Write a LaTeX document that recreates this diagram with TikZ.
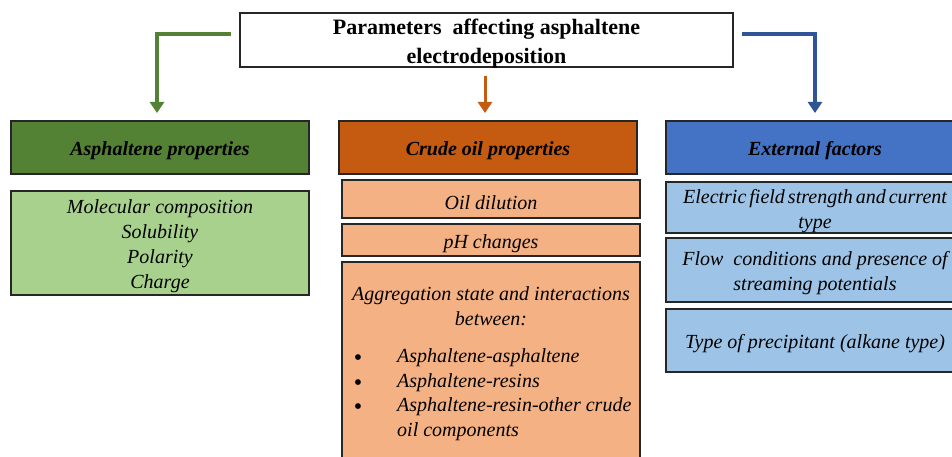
\documentclass[tikz,border=0pt]{standalone}
\usepackage{fontspec}
\setmainfont{Liberation Serif}
\usetikzlibrary{arrows.meta}
\definecolor{gdark}{HTML}{548235}
\definecolor{glight}{HTML}{A9D18E}
\definecolor{odark}{HTML}{C55A11}
\definecolor{olight}{HTML}{F4B183}
\definecolor{bdark}{HTML}{4472C4}
\definecolor{blight}{HTML}{9DC3E6}
\definecolor{barrow}{HTML}{2F5597}
\definecolor{edge}{HTML}{262626}
\newcommand\tightsp{\spaceskip=3pt plus 1pt\relax}
\tikzset{
  box/.style={draw=edge, line width=1.3pt, minimum width=298pt, inner sep=0pt, outer sep=0pt},
  head/.style={box, minimum height=53pt},
  lbl/.style={inner sep=0pt, align=center, yshift=-3.5pt, font=\fontsize{20}{25}\selectfont\itshape},
  hlbl/.style={lbl, font=\fontsize{20}{25}\selectfont\bfseries\itshape},
  conn/.style={line width=3.5pt, -{Triangle[width=14pt,length=11pt]}},
  txt/.style={anchor=base, inner sep=0pt, font=\fontsize{20}{25}\selectfont\itshape},
  bul/.style={anchor=base, inner sep=0pt, font=\fontsize{24}{24}\selectfont\upshape},
}
\begin{document}
\begin{tikzpicture}[x=1pt,y=-1pt]
\useasboundingbox (0,0) rectangle (952,457);
\clip (0,0) rectangle (952,457);
\fill[white] (0,0) rectangle (952,457);

% title
\node[draw=edge, line width=1.3pt, minimum width=493pt, minimum height=54pt, inner sep=0pt] (title) at (486.5,40) {};
\node[lbl, yshift=-0.5pt, font=\fontsize{22}{29}\selectfont\bfseries] (titletext) at (title.center)
  {Parameters\ \ affecting asphaltene\\electrodeposition};

% headers
\node[head, fill=gdark] (ahead) at (160,147.5) {};
\node[hlbl] (aheadt) at (ahead.center) {Asphaltene properties};
\node[head, fill=odark] (chead) at (488,147.5) {};
\node[hlbl] (cheadt) at (chead.center) {Crude oil properties};
\node[head, fill=bdark] (ehead) at (815,147.5) {};
\node[hlbl] (eheadt) at (ehead.center) {External factors};

% asphaltene list
\node[box, fill=glight, minimum height=104pt] (alist) at (160,243) {};
\node[lbl] (alistt) at (alist.center) {Molecular composition\\Solubility\\Polarity\\Charge};

% crude oil boxes
\node[box, fill=olight, minimum height=38pt] (oil) at (491,199) {};
\node[lbl] (oilt) at (oil.center) {Oil dilution};
\node[box, fill=olight, minimum height=32pt] (ph) at (491,240) {};
\node[lbl] (pht) at (ph.center) {pH changes};
\node[box, fill=olight, minimum height=238pt] (agg) at (491,381) {};
\node[txt] (agg1) at (491,300) {Aggregation state and interactions};
\node[txt] (agg2) at (491,325) {between:};
\node[bul] (b1) at (358,365.5) {\textbullet};
\node[bul] (b2) at (358,390.5) {\textbullet};
\node[bul] (b3) at (358,414.5) {\textbullet};
\node[txt, anchor=base west] (i1) at (397,362) {Asphaltene-asphaltene};
\node[txt, anchor=base west] (i2) at (397,387) {Asphaltene-resins};
\node[txt, anchor=base west] (i3) at (397,411) {Asphaltene-resin-other crude};
\node[txt, anchor=base west] (i4) at (397,436) {oil components};

% external boxes
\node[box, fill=blight, minimum height=51pt] (e1) at (815,207.5) {};
\node[lbl] (e1t) at (e1.center)
  {\tightsp Electric field strength and current\\type};
\node[box, fill=blight, minimum height=64pt] (e2) at (815,270) {};
\node[lbl] (e2t) at (e2.center) {Flow\ \ conditions and presence of\\streaming potentials};
\node[box, fill=blight, minimum height=63pt] (e3) at (815,340.5) {};
\node[lbl] (e3t) at (e3.center) {Type of precipitant (alkane type)};

% connectors
\coordinate (gs) at (231,34);
\coordinate (ge) at (157,113);
\coordinate (os) at (485,76);
\coordinate (oe) at (485,113);
\coordinate (bs) at (742,34);
\coordinate (be) at (815,113);
\draw[conn, gdark] (gs) -| (ge);
\draw[conn, odark, line width=3pt] (os) -- (oe);
\draw[conn, barrow] (bs) -| (be);
\end{tikzpicture}
\end{document}
